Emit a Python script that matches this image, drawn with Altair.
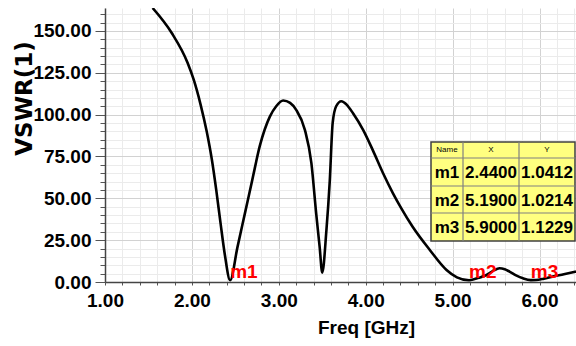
import altair as alt
import pandas as pd

# ---- data ----
freq = [1.548, 1.77, 1.95, 2.02, 2.10, 2.17, 2.23, 2.28, 2.33, 2.38, 2.44,
        2.525, 2.61, 2.695, 2.78, 2.897, 2.97, 3.05, 3.13, 3.20, 3.30, 3.375,
        3.43, 3.47, 3.50, 3.548, 3.586, 3.62, 3.66, 3.72, 3.78, 3.854, 3.97, 4.084,
        4.20, 4.314, 4.41, 4.54, 4.74, 4.93, 5.05, 5.19, 5.30, 5.39, 5.47, 5.54,
        5.60, 5.655, 5.73, 5.81, 5.90, 5.96, 6.05, 6.15, 6.28, 6.42]
vswr = [163.7, 148.6, 131.0, 121.0, 106.0, 90.0, 73.0, 55.0, 35.0, 16.0, 1.04,
        21.0, 41.0, 61.0, 81.0, 98.8, 105.0, 108.4, 107.0, 102.8, 90.9, 71.0,
        41.0, 21.0, 5.6, 31.0, 60.0, 95.0, 105.0, 108.0, 106.0, 100.8, 90.9, 78.5,
        65.0, 53.0, 44.0, 33.0, 19.0, 7.2, 2.8, 1.02, 2.5, 4.2, 6.8, 8.2,
        7.6, 6.2, 4.0, 2.2, 1.12, 1.2, 2.0, 3.2, 4.6, 6.2]

marker_names = ["m1", "m2", "m3"]
marker_x = [2.44, 5.19, 5.90]
marker_y = [1.0412, 1.0214, 1.1229]
marker_x_text = ["2.4400", "5.1900", "5.9000"]
marker_y_text = ["1.0412", "1.0214", "1.1229"]

x_ticks = [round(1.0 + 0.2 * i, 1) for i in range(28)]   # 1.0 .. 6.4
y_ticks = [5 * i for i in range(33)]                     # 0 .. 160

ARIAL = "'Liberation Sans', Arial, sans-serif"

W, H = 471, 274
LEFT, TOP = 105, 8
PAD = {"left": LEFT, "top": TOP, "right": 0, "bottom": 64}

curve = pd.DataFrame({"freq": freq, "vswr": vswr})
markers = pd.DataFrame({"name": marker_names, "x": marker_x, "y": marker_y})

xscale = alt.Scale(domain=[1.0, 6.42], nice=False, zero=False)
yscale = alt.Scale(domain=[0, 163.7], nice=False)

major_x = "abs(datum.value - round(datum.value)) < 0.001"
major_y = "datum.value % 25 === 0"

x_axis = alt.Axis(
    values=x_ticks,
    labelExpr=f"{major_x} ? format(datum.value, '.2f') : ''",
    labelFont=ARIAL, labelFontSize=19, labelFontWeight="bold", labelColor="black",
    labelOverlap=False, labelFlush=False, labelPadding=6,
    tickSize=3, tickColor="#555555", domainColor="#444444", domainWidth=1.5,
    grid=True,
    gridColor={"condition": {"test": major_x, "value": "#d2d2d2"}, "value": "#ebebeb"},
    title="Freq [GHz]", titleFont=ARIAL, titleFontSize=19, titleFontWeight="bold",
    titleColor="black", titleX=261, titleY=51, titleBaseline="alphabetic", titleAlign="center",
)
y_axis = alt.Axis(
    values=y_ticks,
    labelExpr=f"{major_y} ? format(datum.value, '.2f') : ''",
    labelFont=ARIAL, labelFontSize=19, labelFontWeight="bold", labelColor="black",
    labelOverlap=False, labelFlush=False, labelPadding=4,
    tickSize={"condition": {"test": major_y, "value": 10}, "value": 5},
    tickColor="#555555", domainColor="#444444", domainWidth=1.5,
    grid=True,
    gridColor={"condition": {"test": major_y, "value": "#d2d2d2"}, "value": "#ebebeb"},
    title="VSWR(1)", titleFont="'DejaVu Sans', sans-serif", titleFontSize=23, titleFontWeight="bold",
    titleColor="black", titleX=-81, titleY=90, titleAngle=270, titleAlign="center",
    titleBaseline="middle",
)

line = alt.Chart(curve).mark_line(
    color="black", strokeWidth=2.6, interpolate="monotone", clip=True
).encode(
    x=alt.X("freq:Q", scale=xscale, axis=x_axis),
    y=alt.Y("vswr:Q", scale=yscale, axis=y_axis),
)

labels = alt.Chart(markers).mark_text(
    color="#ff0000", font=ARIAL, fontSize=19, fontWeight="bold",
    align="left", baseline="alphabetic", dy=-2
).encode(x=alt.X("x:Q", scale=xscale, axis=x_axis),
         y=alt.Y("y:Q", scale=yscale, axis=y_axis), text="name:N")

# ---- marker table (annotation, placed in pixels of the page) ----
col_edges = [431, 463, 519, 575]
row_edges = [142, 158, 186, 213, 241]
cx_ = [c - LEFT for c in col_edges]
ry_ = [r - TOP for r in row_edges]
one = pd.DataFrame({"k": [0]})
layers = [line, labels]

layers.append(alt.Chart(one).mark_rect(
    fill="#ffff80", stroke="#404040", strokeWidth=1.5
).encode(x=alt.value(cx_[0]), x2=alt.value(cx_[-1]),
         y=alt.value(ry_[0]), y2=alt.value(ry_[-1])))
for c in cx_[1:-1]:
    layers.append(alt.Chart(one).mark_rule(color="#808080", strokeWidth=1.2).encode(
        x=alt.value(c), y=alt.value(ry_[0]), y2=alt.value(ry_[-1])))
for r in ry_[1:-1]:
    layers.append(alt.Chart(one).mark_rule(color="#808080", strokeWidth=1.2).encode(
        y=alt.value(r), x=alt.value(cx_[0]), x2=alt.value(cx_[-1])))

header = ["Name", "X", "Y"]
for j, h in enumerate(header):
    layers.append(alt.Chart(one).mark_text(
        font=ARIAL, fontSize=8, color="black", align="center", baseline="middle"
    ).encode(x=alt.value((cx_[j] + cx_[j + 1]) / 2),
             y=alt.value((ry_[0] + ry_[1]) / 2), text=alt.value(h)))

for i in range(len(marker_names)):
    row = [marker_names[i], marker_x_text[i], marker_y_text[i]]
    for j, t in enumerate(row):
        layers.append(alt.Chart(one).mark_text(
            font=ARIAL, fontSize=17, fontWeight="bold", color="black",
            align="center", baseline="middle"
        ).encode(x=alt.value((cx_[j] + cx_[j + 1]) / 2),
                 y=alt.value((ry_[i + 1] + ry_[i + 2]) / 2 + 1), text=alt.value(t)))

chart = alt.layer(*layers).properties(
    width=W, height=H,
    autosize=alt.AutoSizeParams(type="none"),
    padding=PAD,
    background="white",
).configure_view(stroke=None)

chart.save("out.html", embed_options={"renderer": "svg", "actions": False})
